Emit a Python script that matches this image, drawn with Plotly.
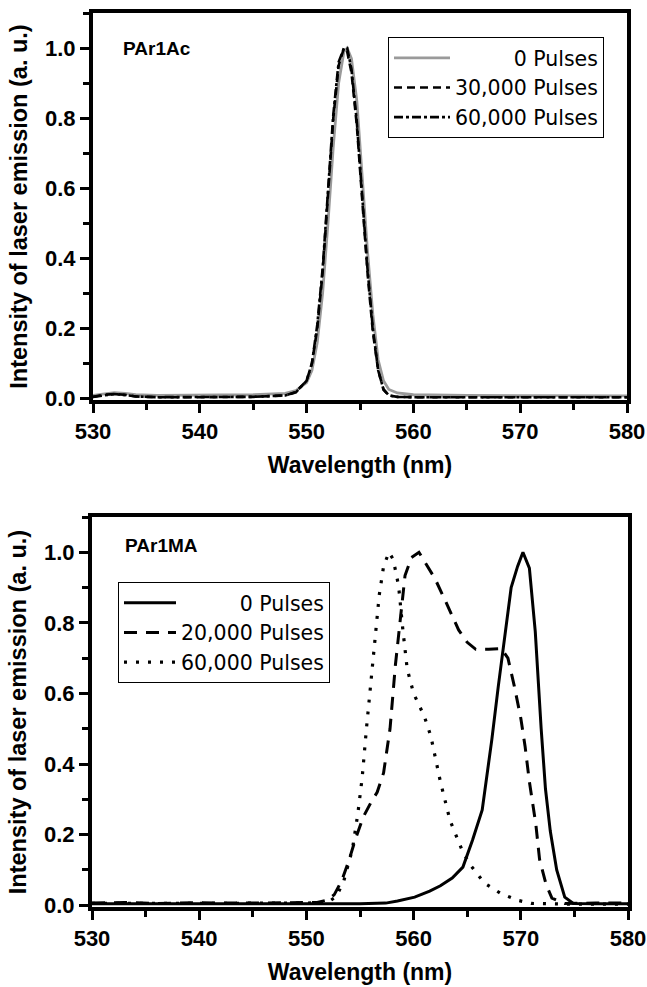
import plotly.graph_objects as go

# ---------------- data: top panel (PAr1Ac) ----------------
top_x = [530, 531, 532, 533, 534, 536, 540, 545, 548, 549, 550, 550.5, 551, 551.5,
         552, 552.5, 553, 553.5, 553.8, 554.2, 554.7, 555.2, 555.7, 556.2, 556.7,
         557.2, 557.7, 558.5, 560, 565, 570, 575, 580]
top_0 = [0.008, 0.012, 0.016, 0.014, 0.010, 0.008, 0.008, 0.010, 0.014, 0.022, 0.045,
         0.08, 0.16, 0.30, 0.50, 0.72, 0.90, 0.99, 1.0, 0.97, 0.85, 0.64, 0.42, 0.24,
         0.11, 0.05, 0.025, 0.015, 0.010, 0.008, 0.008, 0.007, 0.007]
top_30k = [0.004, 0.010, 0.012, 0.010, 0.005, 0.003, 0.003, 0.004, 0.008, 0.018, 0.05,
           0.10, 0.20, 0.36, 0.58, 0.80, 0.95, 1.0, 0.99, 0.93, 0.78, 0.56, 0.36, 0.19,
           0.08, 0.025, 0.008, 0.004, 0.003, 0.003, 0.003, 0.003, 0.003]
top_60k = [0.004, 0.009, 0.012, 0.009, 0.005, 0.003, 0.003, 0.004, 0.008, 0.017, 0.05,
           0.10, 0.21, 0.37, 0.59, 0.81, 0.96, 1.0, 1.0, 0.94, 0.79, 0.57, 0.37, 0.20,
           0.08, 0.025, 0.008, 0.004, 0.003, 0.003, 0.003, 0.003, 0.003]

# ---------------- data: bottom panel (PAr1MA) ----------------
b0_x = [530, 535, 540, 545, 550, 553, 555, 557.4, 558.5, 560.1, 561.5, 562.5, 563.6,
        564.6, 565.5, 566.4, 567.3, 567.9, 568.5, 569.1, 569.7, 570.2, 570.8, 571.35,
        571.9, 572.3, 572.75, 573.35, 574.1, 574.9, 577, 580]
b0_y = [0.004, 0.004, 0.003, 0.004, 0.004, 0.004, 0.004, 0.006, 0.012, 0.023, 0.040,
        0.055, 0.077, 0.108, 0.185, 0.27, 0.47, 0.62, 0.755, 0.90, 0.96, 1.0, 0.955,
        0.775, 0.50, 0.33, 0.21, 0.10, 0.023, 0.005, 0.004, 0.004]

b20_x = [530, 533, 536, 540, 544, 548, 551, 552, 552.6, 553.3, 554.0, 554.6, 555.3,
         556.0, 556.6, 557.2, 557.8, 558.3, 558.7, 559.2, 559.8, 560.5, 561.0, 562.0,
         563.0, 564.2, 565.0, 565.8, 567.0, 568.2, 568.8, 569.4, 570.0, 570.4, 570.8,
         571.4, 571.75, 572.35, 572.9, 574.1, 577, 580]
b20_y = [0.006, 0.008, 0.005, 0.007, 0.006, 0.007, 0.008, 0.015, 0.03, 0.07, 0.13,
         0.19, 0.25, 0.29, 0.32, 0.375, 0.50, 0.68, 0.79, 0.934, 0.985, 1.0, 0.975,
         0.925, 0.86, 0.78, 0.745, 0.725, 0.725, 0.727, 0.70, 0.62, 0.53, 0.45, 0.35,
         0.23, 0.13, 0.06, 0.02, 0.005, 0.006, 0.006]

b60_x = [530, 535, 540, 545, 550, 552, 552.8, 553.5, 554.3, 554.8, 555.2, 555.6, 556.0,
         556.4, 556.8, 557.2, 557.7, 558.1, 558.6, 559.0, 559.4, 560.0, 560.5, 561.0,
         561.6, 562.5, 563.4, 564.6, 565.4, 566.6, 568.1, 569.7, 571, 575, 580]
b60_y = [0.005, 0.005, 0.006, 0.005, 0.006, 0.008, 0.025, 0.07, 0.16, 0.26, 0.36, 0.50,
         0.63, 0.76, 0.88, 0.96, 1.0, 0.98, 0.905, 0.78, 0.67, 0.60, 0.57, 0.535, 0.48,
         0.35, 0.24, 0.15, 0.11, 0.063, 0.034, 0.014, 0.005, 0.003, 0.003]

top_names = ["\u00a0" * 9 + "0 Pulses", "30,000 Pulses", "60,000 Pulses"]
bot_names = ["\u00a0" * 9 + "0 Pulses", "20,000 Pulses", "60,000 Pulses"]
x_ticks = [530, 540, 550, 560, 570, 580]
y_ticks = [0.0, 0.2, 0.4, 0.6, 0.8, 1.0]

W, H = 647, 987
FONT = "Liberation Sans, Arial, sans-serif"
LEGFONT = "DejaVu Sans, Liberation Sans, sans-serif"

fig = go.Figure()
fig.add_trace(go.Scatter(x=top_x, y=top_0, name=top_names[0], mode="lines",
                         line=dict(color="#9a9a9a", width=2.8), xaxis="x", yaxis="y", legend="legend"))
fig.add_trace(go.Scatter(x=top_x, y=top_30k, name=top_names[1], mode="lines",
                         line=dict(color="black", width=2.6, dash="8px,5px"), xaxis="x", yaxis="y", legend="legend"))
fig.add_trace(go.Scatter(x=top_x, y=top_60k, name=top_names[2], mode="lines",
                         line=dict(color="black", width=2.6, dash="9px,3px,3px,3px"), xaxis="x", yaxis="y", legend="legend"))

fig.add_trace(go.Scatter(x=b0_x, y=b0_y, name=bot_names[0], mode="lines",
                         line=dict(color="black", width=3), xaxis="x2", yaxis="y2", legend="legend2"))
fig.add_trace(go.Scatter(x=b20_x, y=b20_y, name=bot_names[1], mode="lines",
                         line=dict(color="black", width=3, dash="13px,9px"), xaxis="x2", yaxis="y2", legend="legend2"))
fig.add_trace(go.Scatter(x=b60_x, y=b60_y, name=bot_names[2], mode="lines",
                         line=dict(color="black", width=3.2, dash="3px,9px"), xaxis="x2", yaxis="y2", legend="legend2"))

L1, R1 = 93, 627
L2, R2 = 92, 628
T1, B1 = 13, 400
T2, B2 = 517, 907

def xax(l, r):
    return dict(domain=[l / W, r / W], range=[530, 580], tickvals=x_ticks,
                ticks="outside", ticklen=9, tickwidth=3, tickcolor="black",
                ticklabeloverflow="allow",
                minor=dict(dtick=5, tick0=530, ticks="outside", ticklen=6, tickwidth=3, tickcolor="black"),
                showline=True, linewidth=4, linecolor="black", mirror=True,
                showgrid=False, zeroline=False,
                tickfont=dict(family=FONT, size=22, color="black", weight="bold"),
                title=dict(text="<b>Wavelength (nm)</b>", font=dict(family=FONT, size=23, color="black"), standoff=14))

def yax(t, b):
    return dict(domain=[1 - b / H, 1 - t / H], range=[-0.005, 1.1], tickvals=y_ticks,
                tickformat=".1f",
                ticks="outside", ticklen=9, tickwidth=3, tickcolor="black",
                minor=dict(dtick=0.1, tick0=0, ticks="outside", ticklen=6, tickwidth=3, tickcolor="black"),
                showline=True, linewidth=4, linecolor="black", mirror=True,
                showgrid=False, zeroline=False,
                tickfont=dict(family=FONT, size=22, color="black", weight="bold"),
                title=dict(text="<b>Intensity of laser emission (a. u.)</b>", font=dict(family=FONT, size=23.5, color="black"), standoff=12))

x1 = xax(L1, R1); x1["anchor"] = "y"
x2 = xax(L2, R2); x2["anchor"] = "y2"
y1 = yax(T1, B1); y1["anchor"] = "x"
y2 = yax(T2, B2); y2["anchor"] = "x2"

legfont = dict(family=LEGFONT, size=20.5, color="black")
fig.update_layout(
    width=W, height=H, margin=dict(l=0, r=0, t=0, b=0, pad=0, autoexpand=False),
    paper_bgcolor="white", plot_bgcolor="white",
    xaxis=x1, yaxis=y1, xaxis2=x2, yaxis2=y2,
    showlegend=True,
    legend=dict(x=388 / W, y=1 - 37 / H, xanchor="left", yanchor="top",
                bordercolor="black", borderwidth=1, bgcolor="white", font=legfont,
                tracegroupgap=0, itemwidth=56),
    legend2=dict(x=118 / W, y=1 - 582 / H, xanchor="left", yanchor="top",
                 bordercolor="black", borderwidth=1, bgcolor="white", font=legfont,
                 tracegroupgap=0, itemwidth=52),
    annotations=[
        dict(text="<b>PAr1Ac</b>", x=121 / W, y=1 - 48 / H, xref="paper", yref="paper",
             xanchor="left", yanchor="middle", showarrow=False,
             font=dict(family=FONT, size=19, color="black")),
        dict(text="<b>PAr1MA</b>", x=123 / W, y=1 - 545 / H, xref="paper", yref="paper",
             xanchor="left", yanchor="middle", showarrow=False,
             font=dict(family=FONT, size=19, color="black")),
    ],
)

fig.write_html("out.html", config={"displayModeBar": False},
               post_script="document.body.style.margin='0';document.body.style.overflow='hidden';")
